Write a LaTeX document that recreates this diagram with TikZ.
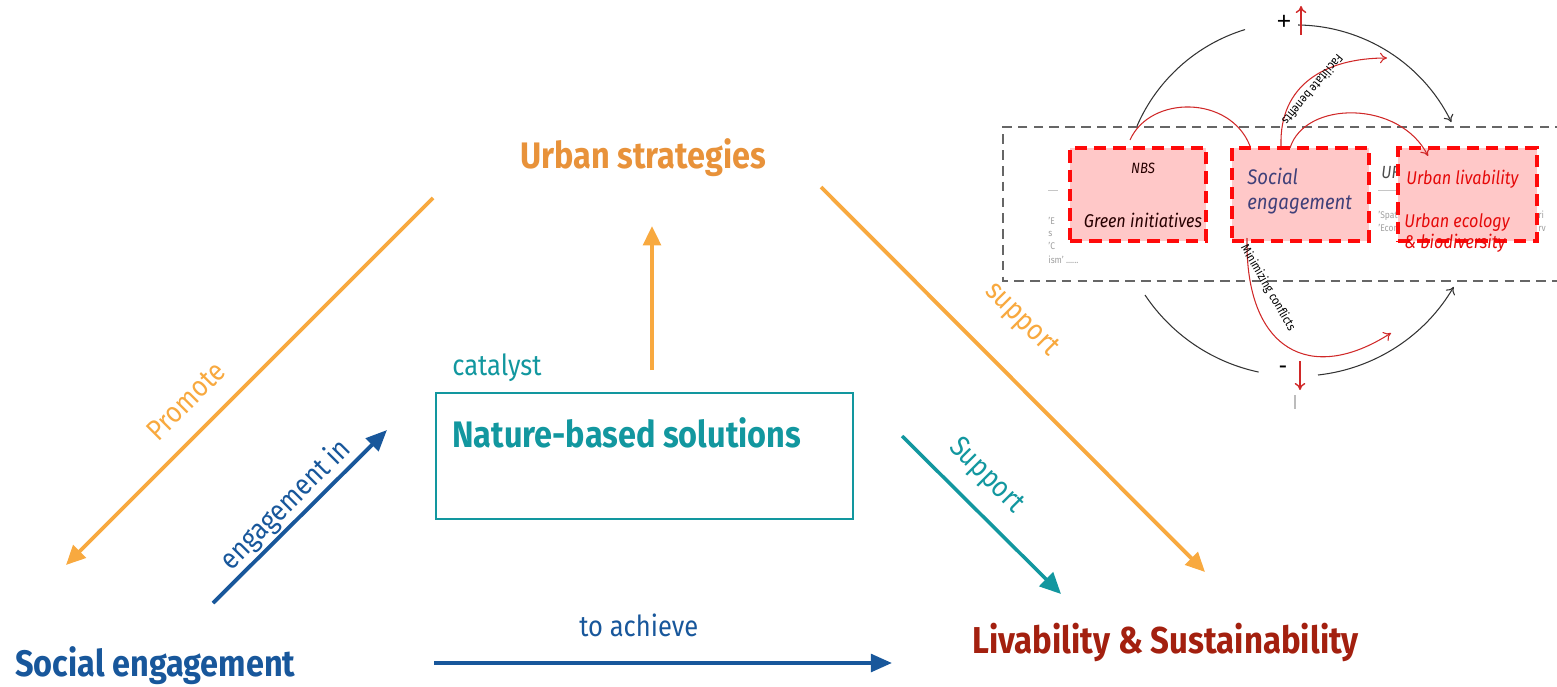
\documentclass[tikz,border=0pt]{standalone}
\usepackage{fontspec}
\setmainfont{Fira Sans}[FakeStretch=0.88]
\newfontfamily\plainsym{Liberation Sans}
\usetikzlibrary{arrows.meta}
\definecolor{orng}{HTML}{F8A93F}
\definecolor{orngtxt}{HTML}{E8923A}
\definecolor{tealc}{HTML}{12979F}
\definecolor{blu}{HTML}{18579B}
\definecolor{dred}{HTML}{A3200F}
\definecolor{rbox}{HTML}{FF0A0A}
\definecolor{pinkf}{HTML}{FFC8C8}
\definecolor{rarc}{HTML}{D02828}
\definecolor{frag}{HTML}{A0A0A0}
\begin{document}
\begin{tikzpicture}[x=0.02cm,y=-0.02cm,
  title/.style={font=\fontsize{21}{25}\selectfont\bfseries, inner sep=0, anchor=base west},
  lbl/.style={font=\fontsize{16.5}{20}\selectfont, inner sep=0},
  oarrow/.style={draw=orng, line width=2.2pt, -{Triangle[length=11pt,width=10pt]}},
  barrow/.style={draw=blu, line width=2.2pt, -{Triangle[length=12pt,width=10pt]}},
  tarrow/.style={draw=tealc, line width=2pt, -{Triangle[length=12pt,width=11pt]}},
  redbox/.style={draw=rbox, fill=pinkf, line width=2.3pt, dash pattern=on 7pt off 4pt},
  rarrow/.style={draw=rarc, line width=0.6pt, -{To[length=4pt,width=6pt]}},
  karrow/.style={draw=black!80, line width=0.6pt},
  frg/.style={font=\fontsize{5.5}{6}\selectfont, text=frag, inner sep=0, anchor=base west},
  boxtxt/.style={font=\fontsize{10.5}{12}\selectfont\itshape, inner sep=0}]
\useasboundingbox (0,0) rectangle (1557,686);

% ---------------- main triangle ----------------
\node[title, text=orngtxt] (urban) at (520,168) {Urban strategies};
\node[draw=tealc, line width=1.1pt, minimum width=8.34cm, minimum height=2.52cm, inner sep=0] (nbsbox) at (644.5,456) {};
\node[title, text=tealc] (nbs) at (452,447) {Nature-based solutions};
\node[lbl, text=tealc, anchor=base west] (cat) at (452,375) {catalyst};
\node[title, text=blu] (social) at (15,676) {Social engagement};
\node[title, text=dred, font=\fontsize{21.3}{25}\selectfont\bfseries] (liv) at (972,653) {Livability \& Sustainability};

\coordinate (pA) at (433,198); \coordinate (pB) at (66,565);
\draw[oarrow] (pA) -- (pB);
\node[lbl, text=orng, rotate=45] (promote) at (186,401) {Promote};

\coordinate (uA) at (652,370); \coordinate (uB) at (652,226);
\draw[oarrow] (uA) -- (uB);

\coordinate (sA) at (821,187); \coordinate (sB) at (1205,572);
\draw[oarrow] (sA) -- (sB);
\node[lbl, text=orng, rotate=-45] (support1) at (1021,320) {support};

\coordinate (eA) at (213,603); \coordinate (eB) at (387,430);
\draw[barrow] (eA) -- (eB);
\node[lbl, text=blu, rotate=45] (engin) at (286,505) {engagement in};

\coordinate (tA) at (902,436); \coordinate (tB) at (1061,594);
\draw[tarrow] (tA) -- (tB);
\node[lbl, text=tealc, rotate=-45] (support2) at (986,476) {Support};

\coordinate (aA) at (434,663); \coordinate (aB) at (892,663);
\draw[barrow] (aA) -- (aB);
\node[lbl, text=blu, anchor=base west] (achieve) at (579,636) {to achieve};

% ---------------- inset ----------------
\draw[draw=black!60, line width=1.1pt, dash pattern=on 5.5pt off 3.5pt]
  (1565,127) -- (1003,127) -- (1003,281) -- (1565,281);

% black arcs
\draw[karrow] (1137,126) arc[start angle=203.5, end angle=253, radius=173];
\draw[karrow, -{To[length=4pt,width=6pt]}] (1298,25) arc[start angle=270.7, end angle=334, radius=173];
\draw[karrow] (1145,295) arc[start angle=146.3, end angle=102, radius=182];
\draw[karrow, -{To[length=4pt,width=6pt]}] (1318,375) arc[start angle=83.7, end angle=30.3, radius=180];
\node[font=\plainsym\fontsize{14}{16}\selectfont, inner sep=0] (plus) at (1284,22) {+};
\coordinate (upA) at (1301,35); \coordinate (upB) at (1301,6);
\draw[rarrow, line width=0.8pt] (upA) -- (upB);
\node[font=\plainsym\fontsize{14}{16}\selectfont, inner sep=0] (minus) at (1283,370) {-};
\coordinate (dnA) at (1300,361); \coordinate (dnB) at (1300,390);
\draw[rarrow, line width=0.8pt] (dnA) -- (dnB);
\draw[frag!70, line width=0.6pt] (1295,395) -- (1295,409);

% grey fragments behind boxes
\draw[frag!60, line width=0.5pt] (1048,190) -- (1058,190);
\draw[frag!60, line width=0.5pt] (1378,190) -- (1410,190);
\node[frg] (f1) at (1048,224) {'E};
\node[frg] (f2) at (1048,236) {s};
\node[frg] (f3) at (1048,249) {'C};
\node[frg] (f4) at (1048,263) {ism' ......};
\node[frg] (f5) at (1378,218) {'Spatial};
\node[frg] (f6) at (1378,231) {'Economic};
\node[frg] (f7) at (1538,218) {ri};
\node[frg] (f8) at (1538,231) {rv};
\node[font=\fontsize{10}{12}\selectfont\itshape, text=black!70, inner sep=0, anchor=base west] (uf) at (1381,178) {UF};

% red boxes
\node[redbox, minimum width=2.72cm, minimum height=1.86cm] (b1) at (1138,194.5) {};
\node[redbox, minimum width=2.74cm, minimum height=1.86cm] (b2) at (1300.5,194.5) {};
\node[redbox, minimum width=2.78cm, minimum height=1.86cm] (b3) at (1467.5,194.5) {};

\node[boxtxt, font=\fontsize{8.5}{10}\selectfont\itshape, text=black!85!red] (t1a) at (1143,168) {NBS};
\node[boxtxt, text=black!85!red] (t1b) at (1143,220) {Green initiatives};
\node[boxtxt, font=\fontsize{12}{14}\selectfont\itshape, text=blue!30!black!75!white, anchor=base west] (t2a) at (1247,184) {Social};
\node[boxtxt, font=\fontsize{12}{14}\selectfont\itshape, text=blue!30!black!75!white, anchor=base west] (t2b) at (1247,209) {engagement};
\node[boxtxt, text=rbox!90!black, anchor=base west] (t3a) at (1406,184) {Urban livability};
\node[boxtxt, text=rbox!90!black, anchor=base west] (t3b) at (1404,227) {Urban ecology};
\node[boxtxt, text=rbox!90!black, anchor=base west] (t3c) at (1404,248) {\& biodiversity};

% red arcs
\draw[draw=rarc, line width=0.6pt] (1130,140) .. controls (1150,95) and (1230,95) .. (1250,146);
\draw[rarrow] (1281,146) .. controls (1279,85) and (1325,58) .. (1387,58);
\node[font=\fontsize{7}{8}\selectfont, inner sep=0, rotate=230] (fac) at (1313,90) {Facilitate benefits};
\draw[rarrow] (1290,148) .. controls (1305,100) and (1400,100) .. (1428,156);
\draw[rarrow] (1247,238) .. controls (1245,350) and (1310,385) .. (1391,333);
\node[font=\fontsize{7}{8}\selectfont, inner sep=0, rotate=-60] (mini) at (1268,288) {Minimizing conflicts};
\end{tikzpicture}
\end{document}
